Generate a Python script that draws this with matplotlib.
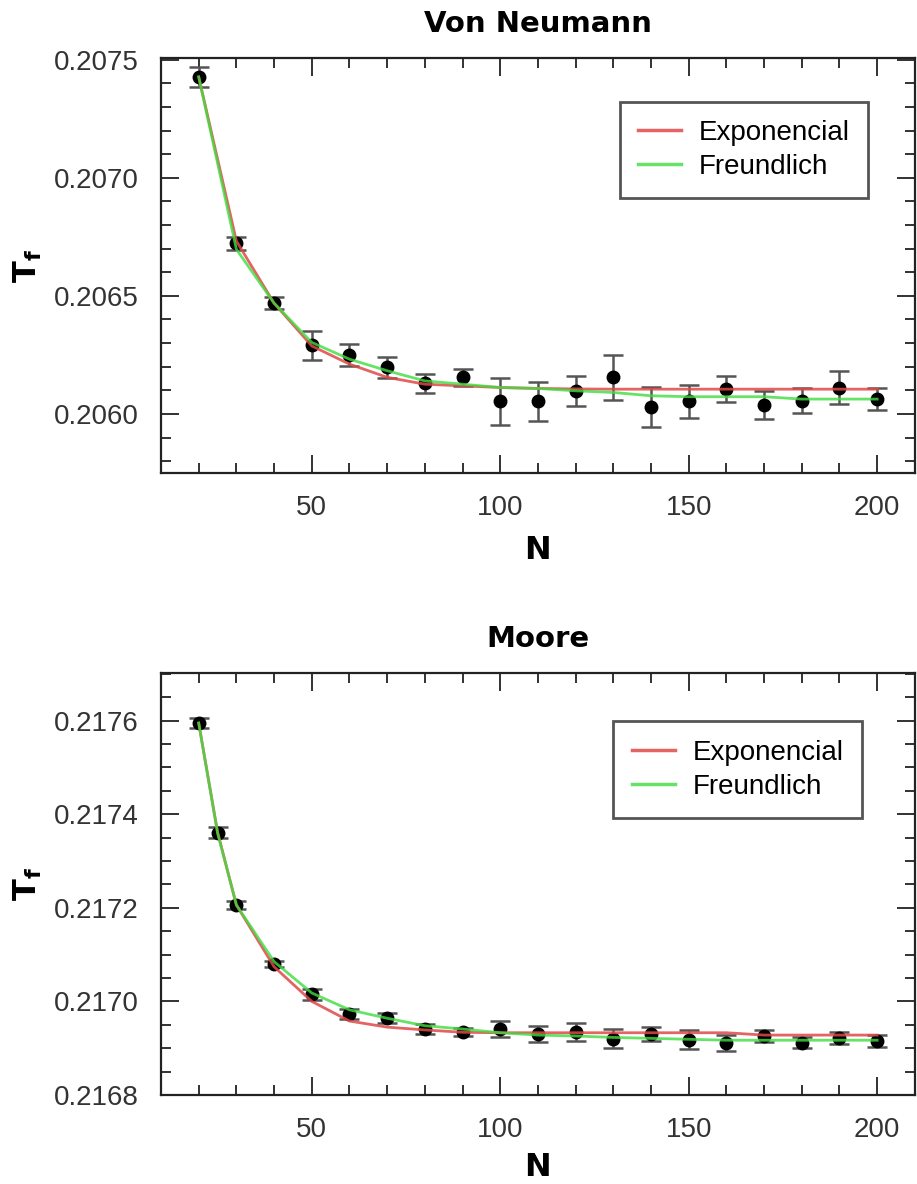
import numpy as np
import matplotlib
matplotlib.use("Agg")
import matplotlib.pyplot as plt
from matplotlib.ticker import MultipleLocator, FormatStrFormatter

# Von Neumann data
n_vn = [20, 30, 40, 50, 60, 70, 80, 90, 100, 110, 120, 130, 140, 150, 160, 170, 180, 190, 200]
tf_vn = [0.207427, 0.206722, 0.206469, 0.206291, 0.206250, 0.206197, 0.206129, 0.206155, 0.206053,
         0.206053, 0.206098, 0.206155, 0.206028, 0.206053, 0.206105, 0.206038, 0.206056, 0.206112, 0.206063]
err_vn = [0.000041, 0.000028, 0.000025, 0.000061, 0.000048, 0.000044, 0.000042, 0.000037, 0.000099,
          0.000081, 0.000064, 0.000094, 0.000085, 0.000068, 0.000054, 0.000060, 0.000054, 0.000068, 0.000048]
exp_vn = [0.207427, 0.206732, 0.206469, 0.206288, 0.206211, 0.206155, 0.206126, 0.206119, 0.206112,
          0.206108, 0.206106, 0.206105, 0.206105, 0.206105, 0.206105, 0.206105, 0.206105, 0.206105, 0.206105]
fre_vn = [0.207427, 0.206697, 0.206469, 0.206303, 0.206232, 0.206183, 0.206140, 0.206126, 0.206112,
          0.206108, 0.206098, 0.206091, 0.206077, 0.206073, 0.206073, 0.206073, 0.206063, 0.206063, 0.206063]

# Moore data
n_mo = [20, 25, 30, 40, 50, 60, 70, 80, 90, 100, 110, 120, 130, 140, 150, 160, 170, 180, 190, 200]
tf_mo = [0.217595, 0.217361, 0.217206, 0.217080, 0.217015, 0.216973, 0.216965, 0.216941, 0.216934, 0.216941,
         0.216930, 0.216935, 0.216920, 0.216930, 0.216918, 0.216912, 0.216926, 0.216912, 0.216921, 0.216916]
err_mo = [0.000011, 0.000011, 0.000009, 0.000006, 0.000011, 0.000011, 0.000011, 0.000011, 0.000009, 0.000017,
          0.000017, 0.000019, 0.000020, 0.000015, 0.000020, 0.000017, 0.000013, 0.000011, 0.000013, 0.000013]
exp_mo = [0.217595, 0.217362, 0.217206, 0.217074, 0.217000, 0.216958, 0.216945, 0.216939, 0.216934, 0.216933,
          0.216933, 0.216933, 0.216933, 0.216933, 0.216933, 0.216933, 0.216928, 0.216928, 0.216928, 0.216928]
fre_mo = [0.217595, 0.217360, 0.217206, 0.217085, 0.217018, 0.216982, 0.216964, 0.216948, 0.216941, 0.216933,
          0.216928, 0.216926, 0.216923, 0.216921, 0.216919, 0.216917, 0.216917, 0.216917, 0.216917, 0.216917]

tick_font = "Liberation Sans"
dark = "#222222"

fig = plt.figure(figsize=(9.17, 11.84), dpi=100)
ax1 = fig.add_axes([0.1756, 0.6005, 0.822, 0.3505])
ax2 = fig.add_axes([0.1756, 0.0752, 0.822, 0.3564])


def draw(ax, n, tf, err, fexp, ffre, title, ylim, major, minor, leg_anchor, xlab_y):
    ax.errorbar(n, tf, yerr=err, fmt="o", color="black", markersize=9,
                ecolor="#555555", elinewidth=1.8, capsize=7.5, capthick=1.8, zorder=2)
    ax.plot(n, fexp, color="#e04848", lw=2, alpha=0.85, label="Exponencial", zorder=3)
    ax.plot(n, ffre, color="#40dd40", lw=2, alpha=0.8, label="Freundlich", zorder=4)

    ax.set_xlim(10, 210)
    ax.set_ylim(*ylim)
    ax.xaxis.set_major_locator(MultipleLocator(50))
    ax.xaxis.set_minor_locator(MultipleLocator(10))
    ax.yaxis.set_major_locator(MultipleLocator(major))
    ax.yaxis.set_minor_locator(MultipleLocator(minor))
    ax.yaxis.set_major_formatter(FormatStrFormatter("%.4f"))

    ax.tick_params(which="both", direction="in", top=True, right=True,
                   color=dark, width=1.3)
    ax.tick_params(which="major", length=13)
    ax.tick_params(which="minor", length=7)
    ax.tick_params(axis="x", which="major", pad=16)
    ax.tick_params(axis="y", which="major", pad=16)
    for lab in ax.get_xticklabels() + ax.get_yticklabels():
        lab.set_fontfamily(tick_font)
        lab.set_fontsize(20)
        lab.set_color("#333333")
    for s in ax.spines.values():
        s.set_color(dark)
        s.set_linewidth(1.6)

    ax.set_title(title, fontsize=21, fontweight="bold", pad=19)
    ax.set_xlabel("N", fontsize=23, fontweight="bold")
    ax.xaxis.set_label_coords(0.5, xlab_y)
    ax.set_ylabel(r"$\mathbf{T_f}$", fontsize=23)
    ax.yaxis.set_label_coords(-0.155, 0.5)

    leg = ax.legend(loc="upper right", bbox_to_anchor=leg_anchor,
                    prop={"family": tick_font, "size": 20},
                    fancybox=False, handlelength=1.55, handletextpad=0.65,
                    borderpad=0.65, labelspacing=0.3, framealpha=1)
    leg.get_frame().set_edgecolor("#555555")
    leg.get_frame().set_linewidth(2)
    for line in leg.get_lines():
        line.set_linewidth(2.5)


plt.rcParams["mathtext.fontset"] = "dejavusans"

draw(ax1, n_vn, tf_vn, err_vn, exp_vn, fre_vn, "Von Neumann",
     (0.20575, 0.207507), 0.0005, 0.0001, (0.956, 0.928), -0.149)
draw(ax2, n_mo, tf_mo, err_mo, exp_mo, fre_mo, "Moore",
     (0.2168, 0.217702), 0.0002, 0.00005, (0.948, 0.918), -0.135)

fig.savefig("out.png", dpi=100)
